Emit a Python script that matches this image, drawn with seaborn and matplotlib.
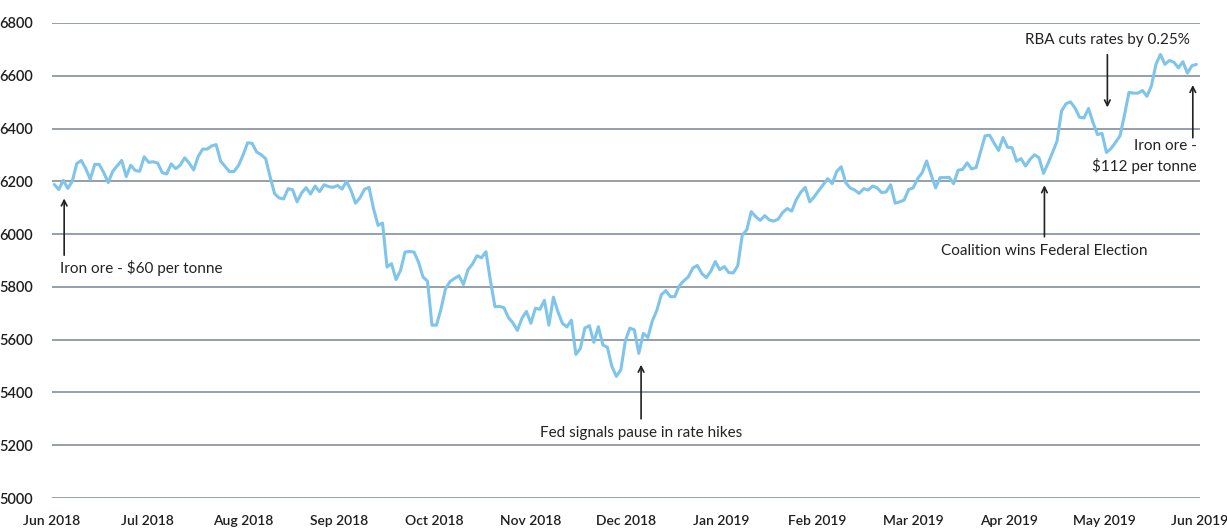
import numpy as np
import pandas as pd
import seaborn as sns
import matplotlib.pyplot as plt

# ASX 200 close, trading days Jun 2018 - Jun 2019
jun_aug = [6188, 6169, 6204, 6173, 6200, 6267, 6279, 6248, 6208, 6264, 6264, 6233, 6195, 6238,
           6259, 6279, 6218, 6261, 6241, 6238, 6293, 6272, 6274, 6269, 6233, 6228, 6266, 6248,
           6261, 6289, 6269, 6243, 6294, 6322, 6322, 6334, 6339, 6276, 6256, 6236, 6238, 6261, 6300]
aug_oct = [6346, 6344, 6311, 6301, 6286, 6217, 6153, 6137, 6133, 6172, 6168, 6122, 6156, 6176,
           6152, 6182, 6161, 6187, 6180, 6177, 6184, 6171, 6200, 6165, 6117, 6138, 6170, 6177,
           6096, 6033, 6042, 5875, 5888, 5828, 5862, 5932, 5934, 5932, 5894, 5837, 5822]
oct_dec = [5655, 5655, 5716, 5792, 5820, 5832, 5842, 5809, 5865, 5886, 5918, 5910, 5933, 5823,
           5725, 5726, 5721, 5684, 5663, 5635, 5681, 5707, 5662, 5719, 5715, 5749, 5655, 5761,
           5706, 5662, 5648, 5674, 5544, 5567, 5644, 5653, 5590, 5649, 5580, 5571, 5499, 5461, 5486]
dec_feb = [5595, 5644, 5637, 5548, 5624, 5608, 5671, 5711, 5770, 5786, 5763, 5763, 5804, 5823,
           5838, 5871, 5881, 5851, 5835, 5859, 5896, 5865, 5877, 5854, 5853, 5880, 5996, 6016,
           6085, 6066, 6052, 6070, 6054, 6049, 6057, 6082, 6097, 6087, 6130, 6158, 6177]
feb_apr = [6122, 6141, 6165, 6187, 6210, 6191, 6237, 6255, 6195, 6175, 6167, 6154, 6172, 6167,
           6182, 6175, 6157, 6160, 6187, 6117, 6122, 6129, 6169, 6175, 6210, 6232, 6277, 6225,
           6175, 6214, 6214, 6215, 6191, 6242, 6245, 6270, 6247, 6252, 6312, 6372, 6375, 6345,
           6317, 6366]
apr_jun = [6329, 6327, 6276, 6286, 6258, 6283, 6301, 6289, 6230, 6268, 6309, 6352, 6466, 6494,
           6501, 6478, 6443, 6440, 6476, 6423, 6377, 6382, 6309, 6324, 6347, 6372, 6451, 6537,
           6534, 6534, 6544, 6522, 6562, 6643, 6681, 6643, 6658, 6651, 6630, 6653, 6610, 6638, 6643]

month_labels = ["Jun 2018", "Jul 2018", "Aug 2018", "Sep 2018", "Oct 2018", "Nov 2018",
                "Dec 2018", "Jan 2019", "Feb 2019", "Mar 2019", "Apr 2019", "May 2019", "Jun 2019"]
y_ticks = [5000, 5200, 5400, 5600, 5800, 6000, 6200, 6400, 6600, 6800]

# events: (label, trading day index, arrow tail value, arrow head value)
events = [
    ("Iron ore - $60 per tonne", 2.2, 5920, 6135),
    ("Fed signals pause in rate hikes", 130.5, 5300, 5505),
    ("Coalition wins Federal Election", 220.2, 5990, 6185),
    ("RBA cuts rates by 0.25%", 234.2, 6680, 6480),
    ("Iron ore -\n$112 per tonne", 253.2, 6365, 6565),
]

close = jun_aug + aug_oct + oct_dec + dec_feb + feb_apr + apr_jun
df = pd.DataFrame({"day": np.arange(len(close)), "close": close})

sns.set_style("white")
plt.rcParams["font.family"] = ["Lato", "DejaVu Sans"]

fig = plt.figure(figsize=(12.27, 5.29), dpi=100)
ax = fig.add_axes([0.0424, 0.0586, 0.9356, 0.898])

sns.lineplot(data=df, x="day", y="close", ax=ax, color="#7fc4ea", linewidth=2.2, zorder=3)

ax.set_ylim(5000, 6800)
ax.set_xlim(-0.5, 254.8)
ax.set_yticks(y_ticks)
ax.set_xticks(np.linspace(-0.5, 254.8, len(month_labels)))
ax.set_xticklabels(month_labels)
ax.yaxis.grid(True, color="#8c96a3", linewidth=1.3)
ax.xaxis.grid(False)
for s in ax.spines.values():
    s.set_visible(False)
ax.tick_params(axis="y", length=0, labelsize=10.5, labelcolor="#1e1e1e", pad=14)
ax.tick_params(axis="x", length=0, labelsize=10, labelcolor="#1e1e1e", pad=12)
for lab in ax.get_xticklabels() + ax.get_yticklabels():
    lab.set_fontweight("semibold")
ax.set_xlabel("")
ax.set_ylabel("")

arrow = dict(arrowstyle="->", color="#222222", lw=1.2, shrinkA=0, shrinkB=0)
for label, day, tail, head in events:
    ax.annotate("", xy=(day, head), xytext=(day, tail), arrowprops=arrow)
    if label.startswith("Iron ore - $60"):
        ax.text(day - 0.9, tail - 50, label, ha="left", va="center", fontsize=11, color="#222222")
    elif label.startswith("Iron ore -\n"):
        ax.text(day + 0.9, tail - 70, label, ha="right", va="center", fontsize=11,
                color="#222222", linespacing=1.35)
    elif head < tail:
        ax.text(day, tail + 55, label, ha="center", va="center", fontsize=11, color="#222222")
    else:
        ax.text(day, tail - 55, label, ha="center", va="center", fontsize=11, color="#222222")

fig.savefig("out.png", dpi=100)
